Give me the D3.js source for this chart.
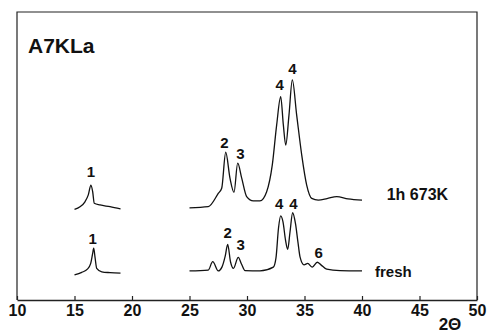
<!DOCTYPE html>
<html>
<head>
<meta charset="utf-8">
<script src="https://cdn.jsdelivr.net/npm/d3@7"></script>
<style>
  body { margin: 0; background: #fff; }
  svg { display: block; }
  text { font-family: "Liberation Sans", Arial, sans-serif; font-weight: bold; fill: #111; }
</style>
</head>
<body>
<div id="xrd"></div>
<script>
// Dados //
const xTicks = [10, 15, 20, 25, 30, 35, 40, 45, 50]

// 1h 673K - pico 1
const heatedLowAngle = [15.0, 15.48, 15.91, 16.2, 16.43, 16.58, 16.72, 17.22, 18.09, 19.0]
const heatedLowValue = [31.5, 32.4, 34.1, 36.5, 39.9, 37.6, 33.6, 33.0, 32.4, 31.6]

// 1h 673K - picos 2 a 4
const heatedHighAngle = [25.0, 26.63, 27.5, 27.8, 28.15, 28.52, 28.87, 29.19, 29.54, 29.97, 30.55, 31.13, 31.71, 32.2, 32.58, 32.93, 33.16, 33.37, 33.65, 33.94, 34.32, 34.76, 35.19, 35.63, 36.2, 36.96, 37.8, 38.78, 40.0]
const heatedHighValue = [32.0, 32.4, 37.0, 38.8, 51.3, 42.3, 37.4, 47.5, 42.3, 35.9, 34.4, 34.4, 37.6, 46.9, 60.8, 70.6, 60.8, 53.8, 64.2, 76.4, 64.2, 50.3, 39.9, 35.3, 34.7, 35.2, 35.9, 35.1, 34.7]

// fresh - pico 1
const freshLowAngle = [15.0, 15.63, 16.12, 16.41, 16.58, 16.67, 16.78, 16.93, 17.37, 18.09, 19.0]
const freshLowValue = [8.7, 9.6, 10.7, 12.7, 16.2, 18.0, 15.0, 11.0, 9.8, 9.5, 9.3]

// fresh - picos 2 a 6
const freshHighAngle = [25.0, 26.63, 27.02, 27.5, 27.83, 28.11, 28.32, 28.57, 28.82, 29.24, 29.52, 29.83, 31.13, 32.29, 32.52, 32.74, 32.93, 33.13, 33.35, 33.54, 33.74, 33.97, 34.22, 34.43, 34.61, 34.96, 35.28, 35.68, 36.11, 36.43, 36.93, 38.09, 40.0]
const freshHighValue = [10.1, 10.4, 13.3, 10.1, 11.5, 15.3, 19.3, 13.2, 11.0, 14.8, 12.5, 10.2, 10.1, 11.4, 14.6, 25.0, 29.2, 27.1, 20.8, 17.6, 23.6, 30.3, 26.4, 20.1, 15.0, 12.2, 12.7, 11.4, 13.1, 12.2, 10.7, 10.2, 10.1]

// Rótulos dos picos
const peakLabels = ["1", "2", "3", "4", "4", "1", "2", "3", "4", "4", "6"]
const peakAngle = [16.43, 28.03, 29.42, 32.84, 33.96, 16.57, 28.33, 29.46, 32.80, 34.03, 36.23]
const peakValue = [42.7, 52.8, 49.1, 72.9, 78.6, 19.3, 21.4, 17.4, 31.6, 31.6, 14.7]

// Nomes das curvas
const traceNames = ["1h 673K", "fresh"]
const traceNameAngle = [42.15, 41.13]
const traceNameValue = [34.7, 8.0]

// Renderiza o gráfico //
const width = 491
const height = 335
const plotLeft = 17, plotRight = 477, plotTop = 12, plotBottom = 300

const x = d3.scaleLinear().domain([10, 50]).range([plotLeft, plotRight])
const y = d3.scaleLinear().domain([0, 100]).range([plotBottom, plotTop])

const svg = d3.select("#xrd")
    .append("svg")
    .attr("width", width)
    .attr("height", height)
    .attr("viewBox", "0 0 " + width + " " + height)

// Moldura
svg.append("path")
    .attr("d", "M" + plotLeft + "," + plotBottom + "V" + plotTop + "H" + plotRight + "V" + plotBottom)
    .attr("fill", "none")
    .attr("stroke", "#222")
    .attr("stroke-width", 1.2)

// Eixo x com ticks para dentro
const xAxis = svg.append("g")
    .attr("transform", "translate(0," + plotBottom + ")")
    .call(d3.axisBottom(x).tickValues(xTicks).tickSizeInner(-4).tickSizeOuter(0).tickPadding(5))

xAxis.select(".domain").attr("stroke", "#222").attr("stroke-width", 1.4)
xAxis.selectAll(".tick line").attr("stroke", "#222").attr("stroke-width", 1.2)
xAxis.selectAll(".tick text")
    .attr("font-size", 16)
    .attr("font-family", null)
    .attr("fill", null)

svg.append("text")
    .attr("x", 450)
    .attr("y", 330)
    .attr("text-anchor", "middle")
    .attr("font-size", 17)
    .text("2Θ")

svg.append("text")
    .attr("x", 28)
    .attr("y", 53)
    .attr("font-size", 21)
    .text("A7KLa")

// Curvas
const line = d3.line()
    .x(d => x(d[0]))
    .y(d => y(d[1]))
    .curve(d3.curveMonotoneX)

const segments = [
  [heatedLowAngle, heatedLowValue],
  [heatedHighAngle, heatedHighValue],
  [freshLowAngle, freshLowValue],
  [freshHighAngle, freshHighValue]
]

svg.selectAll("path.trace")
    .data(segments.map(s => s[0].map((a, i) => [a, s[1][i]])))
    .enter()
    .append("path")
    .attr("class", "trace")
    .attr("d", line)
    .attr("fill", "none")
    .attr("stroke", "#111")
    .attr("stroke-width", 1.3)

// Rótulos
svg.selectAll("text.peak")
    .data(peakLabels)
    .enter()
    .append("text")
    .attr("class", "peak")
    .attr("x", (d, i) => x(peakAngle[i]))
    .attr("y", (d, i) => y(peakValue[i]))
    .attr("text-anchor", "middle")
    .attr("font-size", 15)
    .text(d => d)

svg.selectAll("text.name")
    .data(traceNames)
    .enter()
    .append("text")
    .attr("class", "name")
    .attr("x", (d, i) => x(traceNameAngle[i]))
    .attr("y", (d, i) => y(traceNameValue[i]))
    .attr("font-size", (d, i) => i === 0 ? 16 : 15)
    .text(d => d)
</script>
</body>
</html>
